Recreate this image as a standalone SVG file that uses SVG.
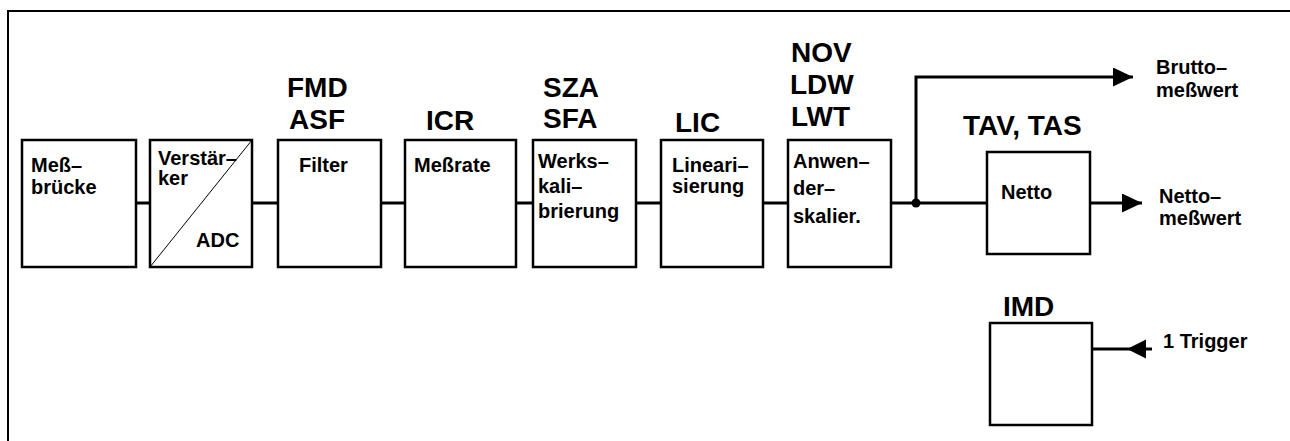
<svg xmlns="http://www.w3.org/2000/svg" width="1290" height="441" viewBox="0 0 1290 441">
<style>
.box{fill:#fff;stroke:#000;stroke-width:2.5}
.ln{fill:none;stroke:#000;stroke-width:3}
.s{font-family:"Liberation Sans",Arial,sans-serif;font-weight:bold;font-size:20px;fill:#000}
.b{font-family:"Liberation Sans",Arial,sans-serif;font-weight:bold;font-size:28px;fill:#000}
</style>
<defs>
<marker id="ah" markerWidth="20" markerHeight="19" refX="20" refY="9.5" orient="auto" markerUnits="userSpaceOnUse">
<path d="M0,0 L20,9.5 L0,19 Z" fill="#000"/>
</marker>
</defs>
<rect width="1290" height="441" fill="#fff"/>
<g id="frame">
<path d="M8,441 V11 H1290" fill="none" stroke="#000" stroke-width="2"/>
</g>
<g id="connectors">
<path class="ln" d="M136,203 H150 M252,203 H278 M381,203 H405 M516,203 H533 M636,203 H661 M763,203 H788 M891,203 H987"/>
<path class="ln" d="M916,203 V77 H1133" marker-end="url(#ah)"/>
<path class="ln" d="M1090,203 H1142" marker-end="url(#ah)"/>
<path class="ln" d="M1092,349 H1152"/>
<path d="M1146,339.5 L1127,349 L1146,358.5 Z" fill="#000"/>
<circle cx="916" cy="203" r="4.5" fill="#000"/>
</g>
<g id="n1"><rect class="box" x="22" y="140" width="114" height="127"/>
<text class="s" x="31" y="172">Meß–</text><text class="s" x="31" y="194">brücke</text></g>
<g id="n2"><rect class="box" x="150" y="140" width="102" height="127"/>
<line x1="150" y1="267" x2="252" y2="140" stroke="#000" stroke-width="1"/>
<text class="s" x="158" y="165">Verstär–</text><text class="s" x="158" y="185">ker</text>
<text class="s" x="196" y="247">ADC</text></g>
<g id="n3"><rect class="box" x="278" y="140" width="103" height="127"/>
<text class="b" x="287" y="97">FMD</text><text class="b" x="289" y="129">ASF</text>
<text class="s" x="299" y="172">Filter</text></g>
<g id="n4"><rect class="box" x="405" y="140" width="111" height="127"/>
<text class="b" x="426" y="130">ICR</text>
<text class="s" x="414" y="172">Meßrate</text></g>
<g id="n5"><rect class="box" x="533" y="140" width="103" height="127"/>
<text class="b" x="543" y="97">SZA</text><text class="b" x="543" y="128">SFA</text>
<text class="s" x="538" y="168">Werks–</text><text class="s" x="538" y="193">kali–</text><text class="s" x="538" y="218">brierung</text></g>
<g id="n6"><rect class="box" x="661" y="140" width="102" height="127"/>
<text class="b" x="675" y="132">LIC</text>
<text class="s" x="672" y="172">Lineari–</text><text class="s" x="672" y="193">sierung</text></g>
<g id="n7"><rect class="box" x="788" y="140" width="103" height="127"/>
<text class="b" x="791" y="62">NOV</text><text class="b" x="790" y="94">LDW</text><text class="b" x="791" y="126">LWT</text>
<text class="s" x="793" y="168">Anwen–</text><text class="s" x="793" y="195">der–</text><text class="s" x="793" y="223">skalier.</text></g>
<g id="n8"><rect class="box" x="987" y="152" width="103" height="102"/>
<text class="b" x="963" y="135">TAV, TAS</text>
<text class="s" x="1001" y="199">Netto</text></g>
<g id="n9"><rect class="box" x="990" y="323" width="102" height="102"/>
<text class="b" x="1003" y="316">IMD</text></g>
<g id="labels">
<text class="s" x="1156" y="74">Brutto–</text><text class="s" x="1156" y="97">meßwert</text>
<text class="s" x="1159" y="203">Netto–</text><text class="s" x="1159" y="225">meßwert</text>
<text class="s" x="1163" y="348">1 Trigger</text>
</g>
</svg>
